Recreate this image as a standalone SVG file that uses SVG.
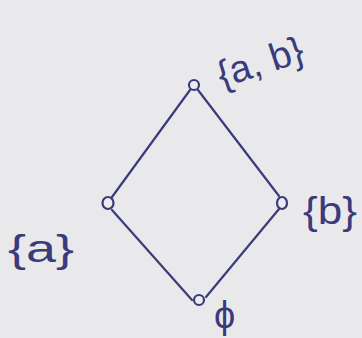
<svg xmlns="http://www.w3.org/2000/svg" width="362" height="338" viewBox="0 0 362 338">
<style>
.ink{stroke:#3b3b7c;stroke-width:2.2;fill:none;stroke-linecap:round}
.node{stroke:#3b3b7c;stroke-width:2.2;fill:#ececf0}
.lbl{font-family:"Liberation Sans",Arial,sans-serif;fill:#3b3b7c;font-size:38px}
</style>
<rect width="362" height="338" fill="#e9e9ec"/>
<g id="edges">
<line class="ink" x1="190" y1="90" x2="112" y2="197"/>
<line class="ink" x1="198" y1="90" x2="279" y2="196"/>
<line class="ink" x1="112" y1="210" x2="192" y2="300"/>
<line class="ink" x1="206" y1="297" x2="279" y2="209"/>
</g>
<g id="n-ab">
<ellipse class="node" cx="194" cy="85" rx="5" ry="5"/>
<text class="lbl" x="222" y="88" transform="rotate(-18 222 88)" font-size="42">{a, b}</text>
</g>
<g id="n-a">
<ellipse class="node" cx="108" cy="203" rx="5.5" ry="6"/>
<text class="lbl" x="8" y="262" textLength="66" lengthAdjust="spacingAndGlyphs" font-size="42">{a}</text>
</g>
<g id="n-b">
<ellipse class="node" cx="282" cy="203" rx="5" ry="6"/>
<text class="lbl" x="303" y="224" textLength="54" lengthAdjust="spacingAndGlyphs" font-size="42">{b}</text>
</g>
<g id="n-empty">
<ellipse class="node" cx="199" cy="300" rx="5" ry="5"/>
<text class="lbl" x="214" y="328" font-size="44">ϕ</text>
</g>
</svg>
